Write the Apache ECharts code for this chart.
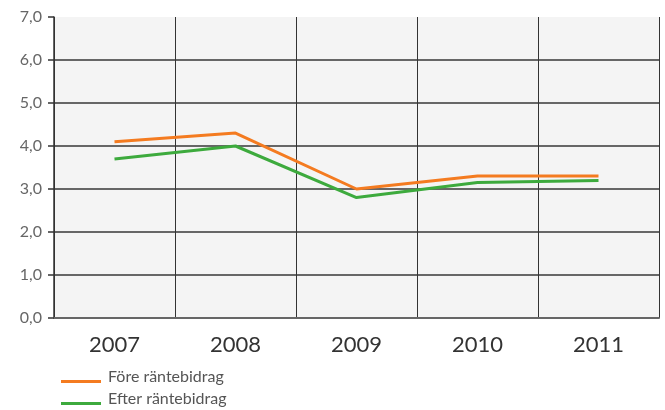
<!DOCTYPE html>
<html>
<head>
<meta charset="utf-8">
<script src="https://cdn.jsdelivr.net/npm/echarts@6/dist/echarts.min.js"></script>
<style>
  html, body { margin: 0; padding: 0; background: #ffffff; }
  #chart { width: 665px; height: 410px; }
</style>
</head>
<body>
<div id="chart"></div>
<script>
// Years on the category axis
const years = ['2007', '2008', '2009', '2010', '2011'];
// Share before and after interest contribution
const foreRantebidrag = [4.1, 4.3, 3.0, 3.3, 3.3];
const efterRantebidrag = [3.7, 4.0, 2.8, 3.15, 3.2];
const seriesNames = ['Före räntebidrag', 'Efter räntebidrag'];
const seriesColors = ['#f47b20', '#3daa3d'];

const FONT = 'Lato, "DejaVu Sans", sans-serif';

const chart = echarts.init(document.getElementById('chart'), null, { renderer: 'canvas' });

// one gridline colour per tick from 0 to 7; the top one is left transparent
const hLineColors = ['#666', '#666', '#666', '#666', '#666', '#666', '#666', 'rgba(0,0,0,0)'];

// legend swatch: a thin bar at the bottom of a taller box (a tiny dot at the top
// keeps the box height), so the line sits near the text baseline
const LEGEND_ICON = 'path://M0,0 L0.01,0 L0.01,0.01 Z M0,9 L40,9 L40,12 L0,12 Z';

// one legend block per series, stacked under the plot
function legendRow(name, top) {
  return {
    orient: 'vertical',
    left: 61, top: top,
    padding: 0,
    icon: LEGEND_ICON,
    itemWidth: 40, itemHeight: 12,
    textStyle: { fontSize: 16, color: '#555', fontFamily: FONT, padding: [0, 0, 0, 2] },
    data: [name]
  };
}

chart.setOption({
  animation: false,
  textStyle: { fontFamily: FONT },
  grid: {
    left: 54, right: 6, top: 17, bottom: 92,
    show: true, backgroundColor: '#f4f4f4', borderWidth: 0
  },
  xAxis: {
    type: 'category',
    data: years,
    boundaryGap: true,
    axisLine: { show: true, lineStyle: { color: '#666', width: 2 } },
    axisTick: { show: false },
    axisLabel: { fontSize: 22, color: '#333', margin: 16, fontFamily: FONT },
    splitLine: { show: true, lineStyle: { color: '#333', width: 1 } }
  },
  yAxis: {
    type: 'value',
    min: 0, max: 7, interval: 1,
    axisLine: { show: true, lineStyle: { color: '#333', width: 1.5 } },
    axisTick: { show: true, length: 6, lineStyle: { color: '#333', width: 1.5 } },
    axisLabel: {
      fontSize: 16, color: '#666', margin: 12, fontFamily: FONT,
      formatter: v => v.toFixed(1).replace('.', ',')
    },
    splitLine: { show: true, lineStyle: { color: hLineColors, width: 2 } }
  },
  legend: [legendRow(seriesNames[0], 369), legendRow(seriesNames[1], 391)],
  series: [
    {
      name: seriesNames[0], type: 'line', data: foreRantebidrag,
      symbol: 'none', lineStyle: { color: seriesColors[0], width: 3 }, itemStyle: { color: seriesColors[0] }
    },
    {
      name: seriesNames[1], type: 'line', data: efterRantebidrag,
      symbol: 'none', lineStyle: { color: seriesColors[1], width: 3 }, itemStyle: { color: seriesColors[1] }
    }
  ]
});
</script>
</body>
</html>
